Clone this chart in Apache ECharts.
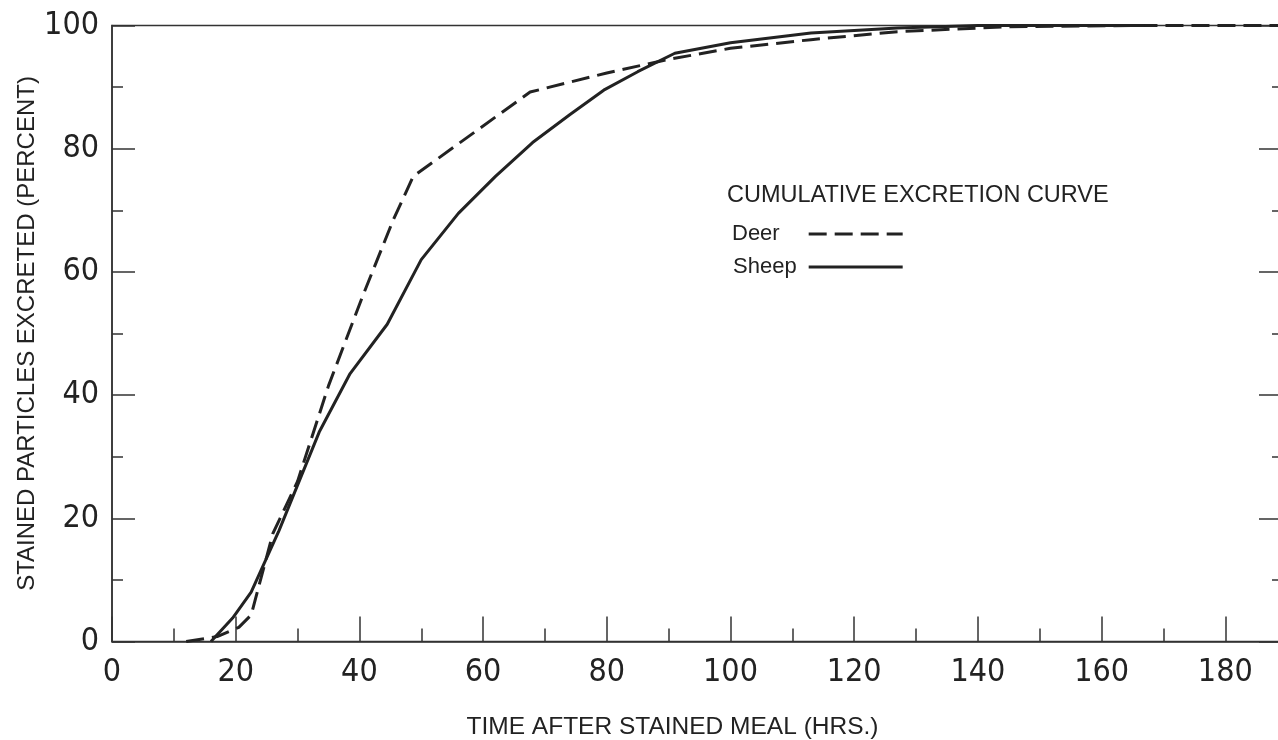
<!DOCTYPE html>
<html><head><meta charset="utf-8">
<script src="https://cdn.jsdelivr.net/npm/echarts@6/dist/echarts.min.js"></script>
<style>html,body{margin:0;padding:0;background:#fff}#c{width:1278px;height:740px}</style>
</head><body><div id="c"></div>
<script>
const xTickLabels = [0, 20, 40, 60, 80, 100, 120, 140, 160, 180];
const yTickLabels = [0, 20, 40, 60, 80, 100];
const deerHours = [12, 17, 20.5, 22.5, 26, 30, 35, 40.5, 45.5, 48.7, 67.6, 80, 90, 100, 113, 127, 145, 165, 190];
const deerPct   = [0, 0.8, 2.3, 4.3, 17.5, 26, 41.5, 56, 68.5, 75.5, 89.2, 92.3, 94.5, 96.3, 97.7, 99, 99.8, 100, 100];
const sheepHours = [16, 19.5, 22.5, 27, 33.5, 38.5, 44.5, 50, 56, 62, 68, 74, 79.5, 85, 91, 100, 113, 127, 140, 167];
const sheepPct   = [0, 3.8, 8, 18, 34, 43.5, 51.5, 62, 69.5, 75.5, 81, 85.5, 89.5, 92.5, 95.5, 97.2, 98.8, 99.6, 100, 100];

const NUM_FONT = "'Liberation Sans Narrow','DejaVu Sans Condensed','Liberation Sans',sans-serif";
const TXT_FONT = "'Liberation Sans','DejaVu Sans',sans-serif";
const INK = '#222';
const AX = '#333';

const pairs = (xs, ys) => xs.map((x, i) => [x, ys[i]]);

const chart = echarts.init(document.getElementById('c'), null, {renderer: 'canvas'});
chart.setOption({
  animation: false,
  backgroundColor: '#fff',
  grid: {left: 112, top: 25.5, bottom: 98.5, right: -71, outerBoundsMode: 'none', containLabel: false,
    show: true, borderColor: AX, borderWidth: 1.5, backgroundColor: 'transparent'},
  title: {
    text: 'CUMULATIVE EXCRETION CURVE', left: 727, top: 184, padding: 0,
    textStyle: {fontSize: 23.5, fontWeight: 'normal', fontFamily: TXT_FONT, color: INK}
  },
  legend: {
    left: 732, top: 223, orient: 'vertical', align: 'right', padding: 0,
    itemWidth: 94, itemHeight: 14, itemGap: 11, selectedMode: false,
    itemStyle: {opacity: 0},
    lineStyle: {width: 3, color: INK},
    textStyle: {fontSize: 22, fontFamily: TXT_FONT, color: INK},
    data: [
      {name: 'Deer', textStyle: {padding: [0, 24, 0, 0]}},
      {name: 'Sheep', textStyle: {padding: [0, 7, 0, 0]}}
    ]
  },
  xAxis: {
    type: 'value', min: 0, max: 200, interval: 20,
    name: 'TIME AFTER STAINED MEAL (HRS.)', nameLocation: 'middle', nameGap: 73, nameMoveOverlap: false,
    nameTextStyle: {fontSize: 24.5, fontFamily: TXT_FONT, color: INK, padding: [0, 116, 0, 0]},
    axisLine: {lineStyle: {color: AX, width: 1.5}},
    axisTick: {inside: true, length: 25, lineStyle: {color: AX, width: 1.5}},
    minorTick: {show: true, splitNumber: 2, length: 13, lineStyle: {color: AX, width: 1.5}},
    splitLine: {show: false},
    axisLabel: {fontSize: 32, fontFamily: NUM_FONT, color: INK, margin: 15,
      formatter: v => xTickLabels.includes(v) ? String(v) : ''}
  },
  yAxis: [
    {
      type: 'value', position: 'left', min: 0, max: 100, interval: 20,
      name: 'STAINED PARTICLES EXCRETED (PERCENT)', nameLocation: 'middle', nameGap: 73, nameMoveOverlap: false,
      nameTextStyle: {fontSize: 24, fontFamily: TXT_FONT, color: INK},
      axisLine: {show: true, lineStyle: {color: AX, width: 1.5}},
      axisTick: {show: true, inside: true, length: 23, lineStyle: {color: AX, width: 1.5}},
      minorTick: {show: true, splitNumber: 2, length: 11, lineStyle: {color: AX, width: 1.5}},
      splitLine: {show: false},
      axisLabel: {fontSize: 32, fontFamily: NUM_FONT, color: INK, margin: 13,
        formatter: v => yTickLabels.includes(v) ? String(v) : ''}
    },
    {
      type: 'value', position: 'right', offset: -62, min: 0, max: 100, interval: 20,
      axisLine: {show: false},
      axisTick: {show: true, inside: true, length: 28, lineStyle: {color: AX, width: 1.5}},
      minorTick: {show: true, splitNumber: 2, length: 15, lineStyle: {color: AX, width: 1.5}},
      splitLine: {show: false},
      axisLabel: {show: false}
    }
  ],
  series: [
    {
      name: 'Deer', type: 'line', data: pairs(deerHours, deerPct), symbol: 'none', smooth: false,
      lineStyle: {color: INK, width: 3, type: [18, 8]}, itemStyle: {color: INK}
    },
    {
      name: 'Sheep', type: 'line', data: pairs(sheepHours, sheepPct), symbol: 'none', smooth: false,
      lineStyle: {color: INK, width: 3, type: 'solid'}, itemStyle: {color: INK}
    }
  ]
});
</script>
</body></html>
